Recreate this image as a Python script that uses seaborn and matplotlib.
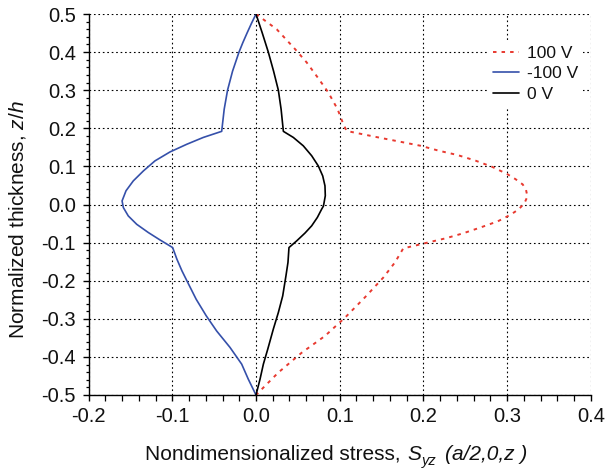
import numpy as np
import pandas as pd
import matplotlib
matplotlib.use("Agg")
import matplotlib.pyplot as plt
import seaborn as sns
from matplotlib.ticker import AutoMinorLocator

# ---- data ----
z_0v = [0.5, 0.45, 0.4, 0.35, 0.3, 0.25, 0.192, 0.176, 0.154, 0.128, 0.101, 0.075, 0.049, 0.023, -0.004,
        -0.012, -0.034, -0.056, -0.075, -0.0955, -0.113, -0.152, -0.187, -0.24, -0.2835, -0.327, -0.38,
        -0.419, -0.4585, -0.5]
s_0v = [0.0, 0.0075, 0.0147, 0.021, 0.0267, 0.030, 0.0327, 0.0446, 0.0565, 0.0665, 0.0745, 0.0797, 0.0824, 0.0828, 0.0806,
        0.0785, 0.0733, 0.0665, 0.0585, 0.0486, 0.0394, 0.0382, 0.0358, 0.0319, 0.0267, 0.0207, 0.014,
        0.0088, 0.0048, 0.0]

z_m100 = [0.5, 0.475, 0.45, 0.425, 0.4, 0.35, 0.3, 0.25, 0.192, 0.176, 0.158, 0.138, 0.1145, 0.088, 0.062, 0.036,
          0.0095, -0.008, -0.03, -0.052, -0.0735, -0.093, -0.113, -0.1436, -0.174, -0.2005, -0.2486, -0.292,
          -0.332, -0.375, -0.419, -0.4585, -0.5]
s_m100 = [0.0, -0.0055, -0.0107, -0.0157, -0.0203, -0.028, -0.034, -0.038, -0.041, -0.063, -0.0828, -0.1027, -0.1207, -0.1346, -0.1466, -0.1553,
          -0.1600, -0.1585, -0.1526, -0.1425, -0.1287, -0.1147, -0.0996, -0.0945, -0.0885, -0.0825, -0.0715, -0.0595,
          -0.047, -0.0311, -0.0171, -0.0092, 0.0]

z_100 = [0.5, 0.46, 0.408, 0.373, 0.331, 0.294, 0.25, 0.211, 0.193, 0.177, 0.154, 0.141, 0.130, 0.115, 0.099, 0.080,
         0.0666, 0.0526, 0.0384, 0.021, 0.0034, -0.0124, -0.0255, -0.035, -0.044, -0.0605, -0.0755, -0.0887, -0.100,
         -0.109, -0.115, -0.152, -0.192, -0.244, -0.297, -0.345, -0.389, -0.441, -0.5]
s_100 = [0.0, 0.0247, 0.0466, 0.0605, 0.0745, 0.0864, 0.0975, 0.1043, 0.1083, 0.144, 0.197, 0.2187, 0.2405, 0.2624, 0.282, 0.300,
         0.310, 0.3187, 0.3226, 0.3243, 0.3207, 0.314, 0.305, 0.297, 0.289, 0.268, 0.2476, 0.2267, 0.2048,
         0.188, 0.176, 0.166, 0.152, 0.130, 0.1063, 0.0824, 0.0546, 0.0267, 0.0]

labels = ["100 V", "-100 V", "0 V"]
x_ticks = [-0.2, -0.1, 0.0, 0.1, 0.2, 0.3, 0.4]
y_ticks = [-0.5, -0.4, -0.3, -0.2, -0.1, 0.0, 0.1, 0.2, 0.3, 0.4, 0.5]

# ---- style ----
sns.set_theme(style="white")
plt.rcParams["font.family"] = ["Liberation Sans", "DejaVu Sans"]
plt.rcParams["mathtext.fontset"] = "custom"
plt.rcParams["mathtext.rm"] = "Liberation Sans"
plt.rcParams["mathtext.it"] = "Liberation Sans:italic"
plt.rcParams["mathtext.bf"] = "Liberation Sans:bold"

W, H = 609, 470
fig = plt.figure(figsize=(W / 100, H / 100), dpi=100)
ax = fig.add_axes([88.6 / W, 1 - 395 / H, (590.8 - 88.6) / W, (395 - 14) / H])

red = "#e8392f"
blue = "#3550aa"
txt = "#111111"

d100 = pd.DataFrame({"s": s_100, "z": z_100})
dm100 = pd.DataFrame({"s": s_m100, "z": z_m100})
d0 = pd.DataFrame({"s": s_0v, "z": z_0v})

sns.lineplot(data=d100, x="s", y="z", sort=False, estimator=None, ax=ax, color=red,
             lw=1.4, linestyle=(0, (1.8, 2.6)), label=labels[0])
sns.lineplot(data=dm100, x="s", y="z", sort=False, estimator=None, ax=ax, color=blue,
             lw=1.2, label=labels[1])
sns.lineplot(data=d0, x="s", y="z", sort=False, estimator=None, ax=ax, color="black",
             lw=1.2, label=labels[2])

ax.set_xlim(-0.2, 0.4)
ax.set_ylim(-0.5, 0.5)
ax.set_xticks(x_ticks)
ax.set_yticks(y_ticks)
ax.set_xticklabels([f"{v:.1f}" for v in x_ticks])
ax.set_yticklabels([f"{v:.1f}" for v in y_ticks])
ax.xaxis.set_minor_locator(AutoMinorLocator(5))
ax.yaxis.set_minor_locator(AutoMinorLocator(5))

for side in ["top", "right"]:
    ax.spines[side].set_visible(False)
for side in ["left", "bottom"]:
    ax.spines[side].set_color("black")
    ax.spines[side].set_linewidth(1.0)

ax.tick_params(axis="both", which="major", direction="out", width=1.0,
               color="black", labelsize=14.5, labelcolor=txt, bottom=True, left=True)
ax.tick_params(axis="x", which="major", length=4.5, pad=4.5)
ax.tick_params(axis="y", which="major", length=4, pad=5)
ax.tick_params(axis="x", which="minor", direction="out", length=4, width=0.9, color="black", bottom=True)
ax.tick_params(axis="y", which="minor", direction="out", length=2.5, width=0.9, color="black", left=True)

ax.grid(True, which="major", color="black", linestyle=(0, (1.5, 2.5)), linewidth=0.8)
ax.set_axisbelow(True)

# y label
ax.set_ylabel(r"Normalized thickness, $z/h$", fontsize=15, color=txt)
ax.yaxis.set_label_coords(-0.121, 0.46)

# x label built from chained pieces (italic after the comma, subscript yz)
ax.set_xlabel("")
x0 = 145 / W
y0 = (H - 460) / H
t1 = fig.text(x0, y0, "Nondimensionalized stress, ", fontsize=15, color=txt, va="baseline", ha="left")
t2 = ax.annotate("S", xy=(1, 0), xycoords=t1, xytext=(1, 0), textcoords="offset points",
                 fontsize=15, fontstyle="italic", color=txt, va="bottom", ha="left", annotation_clip=False)
t3 = ax.annotate("yz", xy=(1, 0), xycoords=t2, xytext=(0.5, -3.0), textcoords="offset points",
                 fontsize=10.5, fontstyle="italic", color=txt, va="bottom", ha="left", annotation_clip=False)
t4 = ax.annotate("(a/2,0,z )", xy=(1, 0), xycoords=t3, xytext=(6, 3.0), textcoords="offset points",
                 fontsize=15, fontstyle="italic", color=txt, va="bottom", ha="left", annotation_clip=False)

leg = ax.legend(loc="upper left", bbox_to_anchor=(0.795, 0.93), frameon=True, fancybox=False,
                framealpha=1, facecolor="white", edgecolor="none", fontsize=12.5,
                handlelength=1.5, handletextpad=0.45, labelspacing=0.3, borderpad=0.3,
                borderaxespad=0)
for t in leg.get_texts():
    t.set_color(txt)

fig.savefig("out.png", dpi=100)
